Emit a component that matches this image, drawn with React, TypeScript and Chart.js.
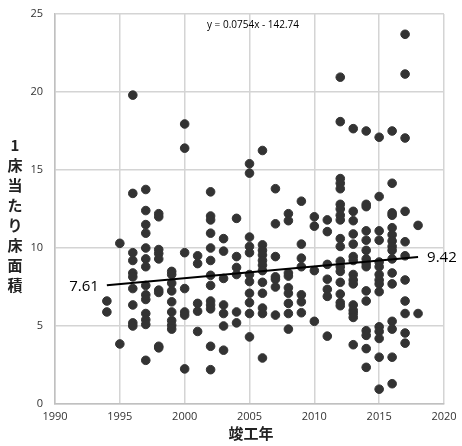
import { useEffect, useRef } from "react";
import { Chart, registerables } from "chart.js";
Chart.register(...registerables);

const years = [1994, 1995, 1996, 1997, 1998, 1999, 2000, 2001, 2002, 2003, 2004, 2005, 2006, 2007, 2008, 2009, 2010, 2011, 2012, 2013, 2014, 2015, 2016, 2017, 2018];
const values: number[][] = [
  [6.6, 5.9],
  [10.3, 3.85],
  [19.8, 13.5, 9.7, 9.2, 8.4, 8.15, 7.4, 6.35, 5.2, 5.0],
  [13.75, 12.4, 11.5, 10.95, 10.0, 9.3, 8.8, 7.6, 7.0, 6.7, 5.8, 5.4, 5.1, 2.8],
  [12.2, 12.0, 9.9, 9.65, 9.3, 7.3, 7.15, 3.7, 3.6],
  [8.5, 8.3, 7.75, 7.25, 6.55, 5.9, 5.35, 5.05, 4.8],
  [17.95, 16.4, 9.7, 7.4, 5.9, 5.7, 2.25],
  [9.5, 9.0, 6.45, 5.95, 4.65],
  [13.6, 12.05, 11.8, 10.95, 10.0, 9.2, 8.25, 7.6, 6.6, 6.35, 6.1, 3.7, 2.2],
  [10.6, 9.8, 8.05, 6.35, 5.8, 5.0, 3.45],
  [11.9, 9.45, 8.75, 8.3, 5.9, 5.2],
  [15.4, 14.8, 10.7, 10.1, 9.7, 8.3, 7.85, 7.1, 6.5, 5.8, 4.3],
  [16.25, 10.2, 9.85, 9.55, 9.2, 8.9, 8.55, 7.8, 7.1, 6.15, 5.8, 2.95],
  [13.8, 11.55, 9.45, 8.15, 8.0, 7.5, 5.7],
  [12.2, 11.75, 8.4, 8.2, 7.45, 7.1, 6.45, 5.8, 4.8],
  [13.0, 10.25, 9.35, 8.8, 7.0, 6.55, 5.85],
  [12.0, 11.4, 8.55, 5.3],
  [11.8, 11.05, 8.95, 8.0, 7.35, 6.9, 4.35],
  [20.95, 18.1, 14.45, 14.15, 13.8, 12.8, 12.5, 12.1, 11.8, 10.6, 10.1, 9.15, 8.8, 8.5, 7.8, 7.05, 6.5, 6.3],
  [17.65, 12.35, 11.75, 10.9, 10.25, 9.45, 9.2, 8.3, 7.95, 7.7, 6.35, 6.0, 5.8, 5.55, 3.8],
  [17.5, 12.8, 12.65, 11.1, 10.5, 9.85, 9.3, 9.0, 8.8, 7.25, 6.6, 4.7, 4.4, 3.55, 2.35],
  [17.1, 13.3, 11.1, 10.5, 9.1, 8.8, 8.3, 7.95, 7.7, 7.2, 4.95, 4.65, 4.2, 3.0, 0.95],
  [17.5, 14.15, 12.25, 12.1, 11.3, 10.85, 10.45, 10.1, 9.85, 9.3, 8.4, 7.7, 5.3, 4.8, 3.0, 1.3],
  [23.7, 21.15, 17.05, 12.35, 10.4, 9.5, 7.95, 6.6, 5.8, 4.55, 3.9],
  [11.45, 5.8],
];
const slope = 0.0754;
const intercept = -142.74;
const trendStart = 1994;
const trendEnd = 2018;
const equationText = "y = 0.0754x - 142.74";
const yTitle = "1床当たり床面積";
const xTitle = "竣工年";

export default function App() {
  const ref = useRef<HTMLCanvasElement>(null);
  useEffect(() => {
    if (!ref.current) return;
    const points: { x: number; y: number }[] = [];
    years.forEach((yr, i) => values[i].forEach((v) => points.push({ x: yr, y: v })));
    const trend = [trendStart, trendEnd].map((x) => ({ x, y: slope * x + intercept }));
    const labelsPlugin = {
      id: "labels",
      afterDraw(chart: any) {
        const ctx = chart.ctx;
        const xs = chart.scales.x;
        const ys = chart.scales.y;
        ctx.save();
        ctx.fillStyle = "#000";
        ctx.textBaseline = "middle";
        ctx.font = "15px 'Open Sans', 'Noto Sans', sans-serif";
        ctx.textAlign = "right";
        ctx.fillText(trend[0].y.toFixed(2), xs.getPixelForValue(trend[0].x) - 8, ys.getPixelForValue(trend[0].y) + 1);
        ctx.textAlign = "left";
        ctx.fillText(trend[1].y.toFixed(2), xs.getPixelForValue(trend[1].x) + 9, ys.getPixelForValue(trend[1].y) + 1);
        ctx.font = "10px 'Open Sans', 'Noto Sans', sans-serif";
        ctx.textAlign = "center";
        ctx.fillText(equationText, 253, 25);
        ctx.fillStyle = "#222";
        ctx.font = "bold 15px 'Noto Sans CJK JP', sans-serif";
        ctx.textAlign = "center";
        ctx.fillText(xTitle, 251, 433);
        const chars = Array.from(yTitle);
        chars.forEach((c, i) => {
          ctx.fillText(c, 15, 145 + i * 20);
        });
        ctx.restore();
      },
    };
    const chart = new Chart(ref.current, {
      type: "scatter",
      data: {
        datasets: [
          {
            type: "scatter",
            data: points,
            backgroundColor: "#333333",
            borderColor: "#333333",
            pointRadius: 4.3,
            pointHoverRadius: 4.3,
            order: 2,
          },
          {
            type: "line",
            data: trend,
            borderColor: "#000",
            borderWidth: 2,
            pointRadius: 0,
            showLine: true,
            fill: false,
            order: 1,
          } as any,
        ],
      },
      options: {
        animation: false,
        responsive: false,
        maintainAspectRatio: false,
        layout: { padding: { left: 0, right: 18, top: 14, bottom: 0 } },
        plugins: { legend: { display: false }, tooltip: { enabled: false } },
        scales: {
          x: {
            type: "linear",
            min: 1990,
            max: 2020,
            ticks: { stepSize: 5, padding: 6, color: "#333", font: { size: 11, family: "'Open Sans', 'Noto Sans', sans-serif" }, maxRotation: 0, callback: (v: any) => String(v) },
            grid: { color: "#d4d4d4", lineWidth: 1.5, drawTicks: false },
            border: { color: "#c0c0c0", width: 1.5 },
            afterFit: (s: any) => { s.height = 42; s.paddingLeft = 0; s.paddingRight = 0; },
          },
          y: {
            type: "linear",
            min: 0,
            max: 25,
            ticks: { stepSize: 5, padding: 12, color: "#333", font: { size: 11, family: "'Open Sans', 'Noto Sans', sans-serif" } },
            grid: { color: "#d4d4d4", lineWidth: 1.5, drawTicks: false },
            border: { color: "#c0c0c0", width: 1.5 },
            afterFit: (s: any) => { s.width = 55; s.paddingTop = 0; s.paddingBottom = 0; },
          },
        },
      },
      plugins: [labelsPlugin],
    });
    return () => chart.destroy();
  }, []);
  return (
    <div style={{ position: "fixed", left: 0, top: 0, width: 462, height: 446, background: "#fff" }}>
      <canvas ref={ref} width={462} height={446} style={{ width: 462, height: 446 }} />
    </div>
  );
}
